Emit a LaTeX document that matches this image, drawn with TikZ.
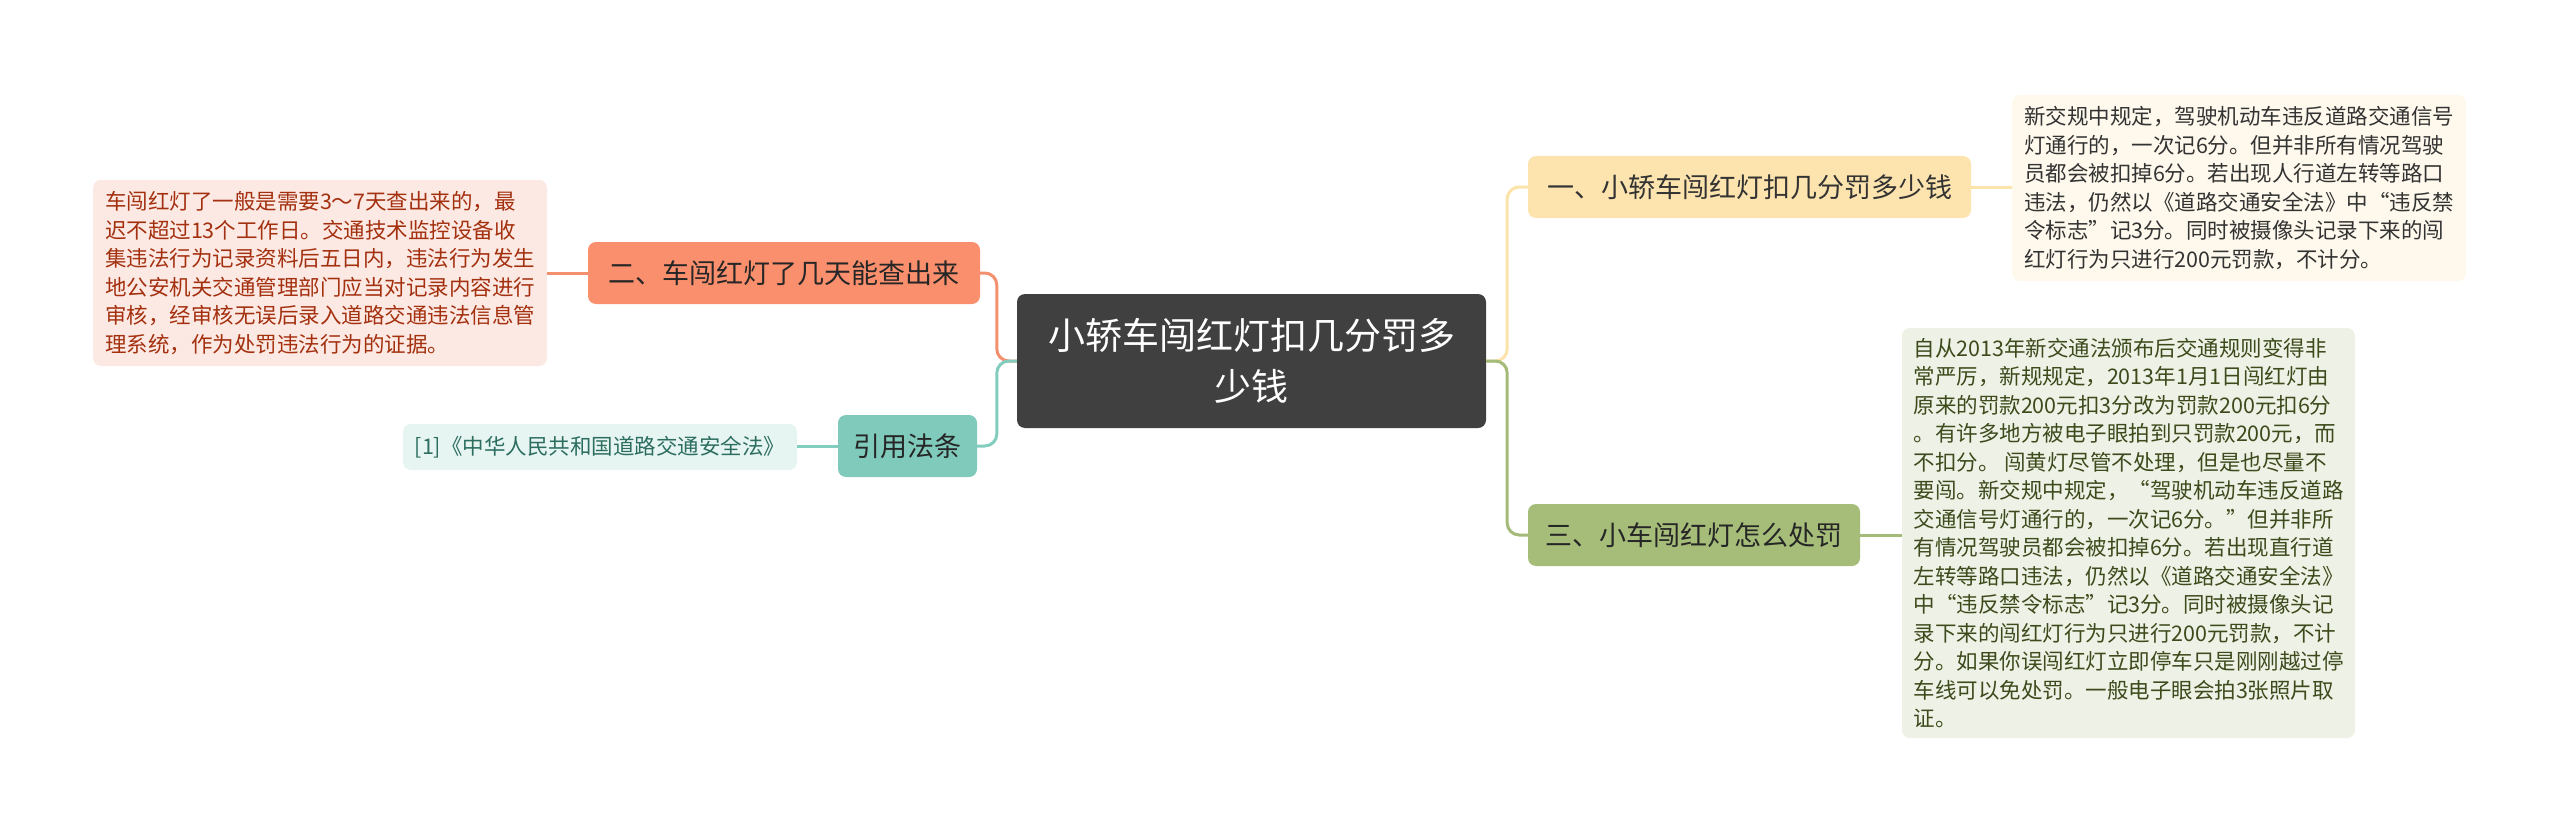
\documentclass[tikz,border=0pt]{standalone}
\usepackage{fontspec}
\setmainfont{Noto Sans CJK SC}
\definecolor{rootfill}{HTML}{404040}
\definecolor{yfill}{HTML}{FDE4AE}
\definecolor{yleaf}{HTML}{FEF9EC}
\definecolor{yline}{HTML}{FBE3AA}
\definecolor{gfill}{HTML}{A5BD79}
\definecolor{gleaf}{HTML}{EEF2E6}
\definecolor{gline}{HTML}{A3BA78}
\definecolor{gtext}{HTML}{3D4A1C}
\definecolor{ofill}{HTML}{FA8F6D}
\definecolor{oleaf}{HTML}{FDE9E3}
\definecolor{oline}{HTML}{F5906F}
\definecolor{otext}{HTML}{A3300F}
\definecolor{tfill}{HTML}{7FCABA}
\definecolor{tleaf}{HTML}{E6F5F2}
\definecolor{tline}{HTML}{83CDBE}
\definecolor{ttext}{HTML}{2C6D60}
\definecolor{dtext}{HTML}{333333}
\tikzset{
  rootbox/.style={fill=rootfill, text=white, rounded corners=8pt, inner sep=0pt,
    minimum width=469pt, minimum height=134pt, align=center,
    font=\fontsize{37}{51}\selectfont},
  topicbox/.style={rounded corners=8pt, inner sep=0pt, minimum height=62pt,
    font=\fontsize{27}{33}\selectfont, text=dtext},
  leafbox/.style={rounded corners=8pt, inner sep=0pt, align=left,
    font=\fontsize{21.5}{28.5}\selectfont},
  conn/.style={line width=3pt, rounded corners=12pt}
}
\begin{document}
\begin{tikzpicture}[x=1pt,y=-1pt]
\useasboundingbox (0,0) rectangle (2560,832);
% nodes
\node[rootbox] (root) at (1251.5,361) {小轿车闯红灯扣几分罚多\\少钱};
\node[topicbox, fill=yfill, minimum width=443pt] (n1) at (1749.5,187) {一、小轿车闯红灯扣几分罚多少钱};
\node[topicbox, fill=gfill, minimum width=332pt, text=black!85] (n3) at (1694,535) {三、小车闯红灯怎么处罚};
\node[topicbox, fill=ofill, minimum width=392pt, text=black!85] (n2) at (784,273) {二、车闯红灯了几天能查出来};
\node[topicbox, fill=tfill, minimum width=139pt, text=black!85] (n4) at (907.5,446) {引用法条};
\node[leafbox, fill=yleaf, text=dtext, minimum width=454pt, minimum height=186pt] (l1) at (2239,188) {新交规中规定，驾驶机动车违反道路交通信号\\灯通行的，一次记6分。但并非所有情况驾驶\\员都会被扣掉6分。若出现人行道左转等路口\\违法，仍然以《道路交通安全法》中“违反禁\\令标志”记3分。同时被摄像头记录下来的闯\\红灯行为只进行200元罚款，不计分。};
\node[leafbox, fill=gleaf, text=gtext, minimum width=453pt, minimum height=410pt] (l3) at (2128.5,533) {自从2013年新交通法颁布后交通规则变得非\\常严厉，新规规定，2013年1月1日闯红灯由\\原来的罚款200元扣3分改为罚款200元扣6分\\。有许多地方被电子眼拍到只罚款200元，而\\不扣分。 闯黄灯尽管不处理，但是也尽量不\\要闯。新交规中规定，“驾驶机动车违反道路\\交通信号灯通行的，一次记6分。”但并非所\\有情况驾驶员都会被扣掉6分。若出现直行道\\左转等路口违法，仍然以《道路交通安全法》\\中“违反禁令标志”记3分。同时被摄像头记\\录下来的闯红灯行为只进行200元罚款，不计\\分。如果你误闯红灯立即停车只是刚刚越过停\\车线可以免处罚。一般电子眼会拍3张照片取\\证。};
\node[leafbox, fill=oleaf, text=otext, minimum width=454pt, minimum height=186pt] (l2) at (320,273) {车闯红灯了一般是需要3～7天查出来的，最\\迟不超过13个工作日。交通技术监控设备收\\集违法行为记录资料后五日内，违法行为发生\\地公安机关交通管理部门应当对记录内容进行\\审核，经审核无误后录入道路交通违法信息管\\理系统，作为处罚违法行为的证据。};
\node[leafbox, fill=tleaf, text=ttext, minimum width=394pt, minimum height=46pt] (l4) at (600,447) {[1]《中华人民共和国道路交通安全法》};
% connectors
\coordinate (jl) at ([xshift=-20pt]root.west);
\coordinate (jr) at ([xshift=21pt]root.east);
\draw[conn, oline] (root.west) -- (jl) |- (n2.east);
\draw[conn, tline] (root.west) -- (jl) |- (n4.east);
\draw[conn, yline] (root.east) -- (jr) |- (n1.west);
\draw[conn, gline] (root.east) -- (jr) |- (n3.west);
\draw[conn, yline] (n1.east) -- (n1.east -| l1.west);
\draw[conn, gline] (n3.east) -- (n3.east -| l3.west);
\draw[conn, oline] (n2.west) -- (n2.west -| l2.east);
\draw[conn, tline] (n4.west) -- (n4.west -| l4.east);
\end{tikzpicture}
\end{document}
